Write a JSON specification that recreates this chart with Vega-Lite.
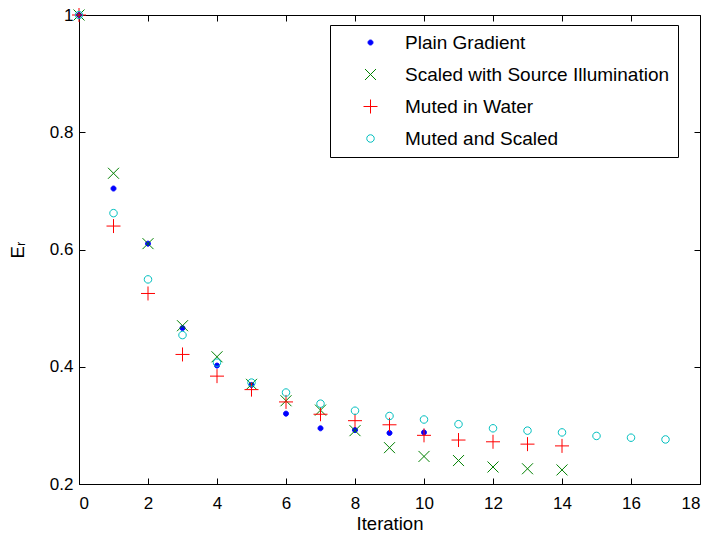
{
  "$schema": "https://vega.github.io/schema/vega-lite/v6.json",
  "width": 621,
  "height": 469,
  "autosize": {"type": "none"},
  "padding": {"left": 79, "top": 15, "right": 8, "bottom": 54},
  "background": "white",
  "config": {
    "font": "Liberation Sans",
    "view": {"stroke": "black", "strokeWidth": 1},
    "axis": {
      "domainColor": "black",
      "domainWidth": 1,
      "tickColor": "black",
      "tickWidth": 1,
      "tickSize": -6,
      "labelColor": "black",
      "labelFontSize": 17,
      "titleColor": "black",
      "titleFontWeight": "normal",
      "titleFontSize": 18.5,
      "grid": false
    }
  },
  "data": {
    "values": [
      {"series": "Plain Gradient", "iter": 0, "Er": 1.0},
      {"series": "Plain Gradient", "iter": 1, "Er": 0.704},
      {"series": "Plain Gradient", "iter": 2, "Er": 0.610},
      {"series": "Plain Gradient", "iter": 3, "Er": 0.466},
      {"series": "Plain Gradient", "iter": 4, "Er": 0.402},
      {"series": "Plain Gradient", "iter": 5, "Er": 0.369},
      {"series": "Plain Gradient", "iter": 6, "Er": 0.320},
      {"series": "Plain Gradient", "iter": 7, "Er": 0.295},
      {"series": "Plain Gradient", "iter": 8, "Er": 0.292},
      {"series": "Plain Gradient", "iter": 9, "Er": 0.287},
      {"series": "Plain Gradient", "iter": 10, "Er": 0.288},
      {"series": "Scaled with Source Illumination", "iter": 0, "Er": 1.0},
      {"series": "Scaled with Source Illumination", "iter": 1, "Er": 0.730},
      {"series": "Scaled with Source Illumination", "iter": 2, "Er": 0.610},
      {"series": "Scaled with Source Illumination", "iter": 3, "Er": 0.470},
      {"series": "Scaled with Source Illumination", "iter": 4, "Er": 0.417},
      {"series": "Scaled with Source Illumination", "iter": 5, "Er": 0.370},
      {"series": "Scaled with Source Illumination", "iter": 6, "Er": 0.342},
      {"series": "Scaled with Source Illumination", "iter": 7, "Er": 0.326},
      {"series": "Scaled with Source Illumination", "iter": 8, "Er": 0.291},
      {"series": "Scaled with Source Illumination", "iter": 9, "Er": 0.262},
      {"series": "Scaled with Source Illumination", "iter": 10, "Er": 0.247},
      {"series": "Scaled with Source Illumination", "iter": 11, "Er": 0.240},
      {"series": "Scaled with Source Illumination", "iter": 12, "Er": 0.229},
      {"series": "Scaled with Source Illumination", "iter": 13, "Er": 0.226},
      {"series": "Scaled with Source Illumination", "iter": 14, "Er": 0.224},
      {"series": "Muted in Water", "iter": 0, "Er": 1.0},
      {"series": "Muted in Water", "iter": 1, "Er": 0.640},
      {"series": "Muted in Water", "iter": 2, "Er": 0.525},
      {"series": "Muted in Water", "iter": 3, "Er": 0.421},
      {"series": "Muted in Water", "iter": 4, "Er": 0.384},
      {"series": "Muted in Water", "iter": 5, "Er": 0.361},
      {"series": "Muted in Water", "iter": 6, "Er": 0.340},
      {"series": "Muted in Water", "iter": 7, "Er": 0.319},
      {"series": "Muted in Water", "iter": 8, "Er": 0.308},
      {"series": "Muted in Water", "iter": 9, "Er": 0.301},
      {"series": "Muted in Water", "iter": 10, "Er": 0.283},
      {"series": "Muted in Water", "iter": 11, "Er": 0.275},
      {"series": "Muted in Water", "iter": 12, "Er": 0.272},
      {"series": "Muted in Water", "iter": 13, "Er": 0.268},
      {"series": "Muted in Water", "iter": 14, "Er": 0.265},
      {"series": "Muted and Scaled", "iter": 0, "Er": 1.0},
      {"series": "Muted and Scaled", "iter": 1, "Er": 0.662},
      {"series": "Muted and Scaled", "iter": 2, "Er": 0.549},
      {"series": "Muted and Scaled", "iter": 3, "Er": 0.454},
      {"series": "Muted and Scaled", "iter": 4, "Er": 0.407},
      {"series": "Muted and Scaled", "iter": 5, "Er": 0.373},
      {"series": "Muted and Scaled", "iter": 6, "Er": 0.356},
      {"series": "Muted and Scaled", "iter": 7, "Er": 0.337},
      {"series": "Muted and Scaled", "iter": 8, "Er": 0.325},
      {"series": "Muted and Scaled", "iter": 9, "Er": 0.316},
      {"series": "Muted and Scaled", "iter": 10, "Er": 0.310},
      {"series": "Muted and Scaled", "iter": 11, "Er": 0.302},
      {"series": "Muted and Scaled", "iter": 12, "Er": 0.295},
      {"series": "Muted and Scaled", "iter": 13, "Er": 0.291},
      {"series": "Muted and Scaled", "iter": 14, "Er": 0.288},
      {"series": "Muted and Scaled", "iter": 15, "Er": 0.282},
      {"series": "Muted and Scaled", "iter": 16, "Er": 0.279},
      {"series": "Muted and Scaled", "iter": 17, "Er": 0.276}
    ]
  },
  "layer": [
    {
      "mark": {"type": "point", "opacity": 1, "strokeWidth": 1, "size": 100, "clip": false},
      "encoding": {
        "x": {
          "field": "iter",
          "type": "quantitative",
          "scale": {"domain": [0, 18], "nice": false, "zero": false},
          "axis": {
            "orient": "bottom",
            "title": "Iteration",
            "values": [0, 2, 4, 6, 8, 10, 12, 14, 16, 18],
            "labelPadding": 17,
            "titlePadding": 3
          }
        },
        "y": {
          "field": "Er",
          "type": "quantitative",
          "scale": {"domain": [0.2, 1], "nice": false, "zero": false},
          "axis": {
            "orient": "left",
            "title": "Eᵣ",
            "values": [0.2, 0.4, 0.6, 0.8, 1],
            "format": "~g",
            "labelPadding": 12,
            "titlePadding": 22
          }
        },
        "shape": {
          "field": "series",
          "type": "nominal",
          "scale": {
            "domain": ["Plain Gradient", "Scaled with Source Illumination", "Muted in Water", "Muted and Scaled"],
            "range": [
              "M0.5,0A0.5,0.5 0 1,1 -0.5,0A0.5,0.5 0 1,1 0.5,0Z",
              "M-1.1,-1.1L1.1,1.1M-1.1,1.1L1.1,-1.1",
              "M-1.4,0L1.4,0M0,-1.4L0,1.4",
              "M0.75,0A0.75,0.75 0 1,1 -0.75,0A0.75,0.75 0 1,1 0.75,0Z"
            ]
          },
          "legend": {
            "title": null,
            "orient": "none",
            "legendX": 251,
            "legendY": 10,
            "strokeColor": "black",
            "fillColor": "white",
            "padding": 8,
            "rowPadding": 12,
            "labelFontSize": 19,
            "labelLimit": 0,
            "labelColor": "black",
            "labelOffset": 25,
            "symbolOffset": 23,
            "symbolSize": 100,
            "symbolStrokeWidth": 1,
            "symbolOpacity": 1
          }
        },
        "stroke": {
          "field": "series",
          "type": "nominal",
          "scale": {
            "domain": ["Plain Gradient", "Scaled with Source Illumination", "Muted in Water", "Muted and Scaled"],
            "range": ["#0000ff", "#008000", "#ff0000", "#00bfbf"]
          }
        },
        "fill": {
          "field": "series",
          "type": "nominal",
          "scale": {
            "domain": ["Plain Gradient", "Scaled with Source Illumination", "Muted in Water", "Muted and Scaled"],
            "range": ["#0000ff", "transparent", "transparent", "transparent"]
          }
        }
      }
    },
    {
      "mark": {"type": "point", "opacity": 0},
      "encoding": {
        "x": {
          "field": "iter",
          "type": "quantitative",
          "axis": {"orient": "top", "title": null, "labels": false, "domain": false, "values": [0, 2, 4, 6, 8, 10, 12, 14, 16, 18]}
        },
        "y": {
          "field": "Er",
          "type": "quantitative",
          "axis": {"orient": "right", "title": null, "labels": false, "domain": false, "values": [0.2, 0.4, 0.6, 0.8, 1]}
        }
      }
    }
  ],
  "resolve": {"axis": {"x": "independent", "y": "independent"}}
}
